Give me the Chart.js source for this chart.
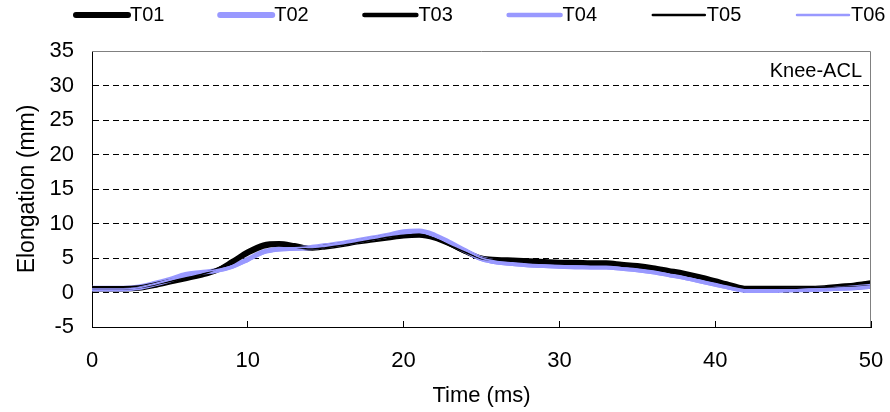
<!DOCTYPE html>
<html>
<head>
<meta charset="utf-8">
<title>Knee-ACL elongation</title>
<script src="https://cdn.jsdelivr.net/npm/chart.js@4.4.1/dist/chart.umd.min.js"></script>
<style>
  body { margin: 0; background: #fff; }
  #wrap { width: 890px; height: 412px; }
</style>
</head>
<body>
<div id="wrap"><canvas id="chart" width="890" height="412"></canvas></div>
<script>
// time axis (ms)
const times = [0, 1, 2, 3, 4, 5, 6, 7, 8, 9, 10, 11, 12, 13, 14, 15, 16, 17, 18, 19, 20,
  21, 22, 23, 24, 25, 26, 27, 28, 29, 30, 31, 32, 33, 34, 35, 36, 37, 38, 39, 40,
  41, 42, 43, 44, 45, 46, 47, 48, 49, 50];

const seriesNames = ['T01', 'T02', 'T03', 'T04', 'T05', 'T06'];

// elongation (mm)
const t01 = [0.5, 0.5, 0.5, 0.6, 1.0, 1.5, 2.0, 2.5, 3.2, 4.5, 5.9, 6.9, 7.1, 6.8, 6.4, 6.6, 6.9, 7.3, 7.6, 7.9, 8.2,
  8.3, 7.9, 7.0, 5.9, 5.0, 4.8, 4.7, 4.6, 4.5, 4.4, 4.4, 4.3, 4.3, 4.1, 3.9, 3.6, 3.2, 2.8, 2.3, 1.7,
  1.1, 0.6, 0.6, 0.6, 0.6, 0.6, 0.7, 0.9, 1.1, 1.4];
const t02 = [0.6, 0.6, 0.6, 0.8, 1.3, 1.9, 2.6, 2.9, 3.2, 3.8, 4.8, 5.9, 6.3, 6.4, 6.5, 6.8, 7.1, 7.5, 7.9, 8.3, 8.8,
  8.9, 8.3, 7.2, 6.0, 4.9, 4.4, 4.2, 4.0, 3.9, 3.8, 3.7, 3.7, 3.7, 3.5, 3.3, 3.0, 2.6, 2.2, 1.7, 1.2,
  0.7, 0.3, 0.3, 0.3, 0.4, 0.4, 0.5, 0.6, 0.7, 0.9];
const t03 = [0.7, 0.7, 0.7, 0.8, 1.2, 1.7, 2.2, 2.6, 3.3, 4.3, 5.6, 6.6, 6.9, 6.7, 6.4, 6.7, 7.0, 7.4, 7.8, 8.2, 8.5,
  8.6, 8.0, 6.9, 5.8, 4.9, 4.6, 4.5, 4.4, 4.3, 4.2, 4.2, 4.1, 4.1, 3.9, 3.7, 3.4, 3.0, 2.6, 2.1, 1.5,
  0.9, 0.5, 0.5, 0.5, 0.5, 0.5, 0.5, 0.6, 0.7, 0.8];
const t04 = [0.4, 0.4, 0.4, 0.6, 1.1, 1.7, 2.4, 2.8, 3.1, 3.7, 4.7, 5.8, 6.2, 6.3, 6.4, 6.7, 7.0, 7.4, 7.8, 8.2, 8.6,
  8.8, 8.2, 7.1, 5.9, 4.8, 4.3, 4.1, 3.9, 3.8, 3.7, 3.7, 3.6, 3.6, 3.4, 3.2, 2.9, 2.5, 2.1, 1.6, 1.1,
  0.6, 0.2, 0.2, 0.3, 0.3, 0.4, 0.4, 0.5, 0.6, 0.8];
const t05 = [0.5, 0.5, 0.5, 0.7, 1.1, 1.6, 2.1, 2.6, 3.4, 4.6, 6.0, 6.9, 7.0, 6.6, 6.3, 6.5, 6.8, 7.2, 7.6, 8.0, 8.3,
  8.4, 7.8, 6.8, 5.8, 4.9, 4.7, 4.6, 4.5, 4.4, 4.3, 4.3, 4.2, 4.2, 4.0, 3.8, 3.5, 3.1, 2.7, 2.2, 1.6,
  1.0, 0.6, 0.6, 0.6, 0.6, 0.7, 0.8, 1.0, 1.3, 1.6];
const t06 = [0.5, 0.5, 0.5, 0.7, 1.2, 1.8, 2.5, 2.9, 3.3, 3.9, 4.9, 6.0, 6.4, 6.5, 6.6, 6.8, 7.2, 7.6, 8.0, 8.4, 8.9,
  9.0, 8.4, 7.3, 6.1, 5.0, 4.5, 4.3, 4.1, 4.0, 3.9, 3.8, 3.8, 3.8, 3.6, 3.4, 3.1, 2.7, 2.3, 1.8, 1.3,
  0.8, 0.4, 0.4, 0.4, 0.4, 0.5, 0.5, 0.6, 0.7, 0.9];

const yTicks = [-5, 0, 5, 10, 15, 20, 25, 30, 35];
const xTicks = [0, 10, 20, 30, 40, 50];

const allSeries = [t01, t02, t03, t04, t05, t06];
const colors = ['#000000', '#9999ff', '#000000', '#9999ff', '#000000', '#9999ff'];
const widths = [5, 5, 3.5, 3.5, 1.5, 1.5];

const FONT = 'Arial, "Liberation Sans", sans-serif';

const datasets = allSeries.map((vals, i) => ({
  label: seriesNames[i],
  data: vals.map((v, k) => ({ x: times[k], y: v })),
  borderColor: colors[i],
  backgroundColor: colors[i],
  borderWidth: widths[i],
  pointRadius: 0,
  cubicInterpolationMode: 'monotone',
  fill: false,
  order: allSeries.length - i   // later series on top, like the original
}));

// frame, corner label and legend row
const extras = {
  id: 'extras',
  afterDraw(chart) {
    const { ctx, chartArea: a } = chart;
    ctx.save();
    ctx.strokeStyle = '#808080';
    ctx.lineWidth = 1;
    ctx.beginPath();
    ctx.moveTo(a.left, a.top + 0.5);
    ctx.lineTo(a.right - 0.5, a.top + 0.5);
    ctx.lineTo(a.right - 0.5, a.bottom);
    ctx.stroke();

    ctx.fillStyle = '#000';
    ctx.font = '20px ' + FONT;
    ctx.textAlign = 'right';
    ctx.textBaseline = 'middle';
    ctx.fillText('Knee-ACL', a.right - 9, a.top + 20);

    // legend
    ctx.textAlign = 'left';
    chart.data.datasets.forEach((ds, i) => {
      const x0 = 76 + i * 144.2;
      const y0 = 15;
      ctx.strokeStyle = ds.borderColor;
      ctx.lineWidth = ds.borderWidth + 1;
      ctx.lineCap = 'round';
      ctx.beginPath();
      ctx.moveTo(x0, y0);
      ctx.lineTo(x0 + 52, y0);
      ctx.stroke();
      ctx.fillStyle = '#000';
      ctx.fillText(ds.label, x0 + 54, y0);
    });
    ctx.restore();
  }
};

new Chart(document.getElementById('chart'), {
  type: 'line',
  data: { datasets },
  options: {
    responsive: false,
    animation: false,
    layout: { padding: { top: 51, right: 19, left: 0, bottom: 0 } },
    plugins: { legend: { display: false }, tooltip: { enabled: false } },
    scales: {
      x: {
        type: 'linear',
        min: 0,
        max: 50,
        afterBuildTicks: s => { s.ticks = xTicks.map(v => ({ value: v })); },
        afterFit: s => { s.height = 85; s.paddingLeft = 0; s.paddingRight = 0; },
        grid: { drawOnChartArea: false, tickLength: -6, tickColor: '#000', color: '#000' },
        border: { color: '#000', width: 1 },
        ticks: { color: '#000', font: { family: FONT, size: 22 }, padding: 27, maxRotation: 0 },
        title: { display: true, text: 'Time (ms)', color: '#000', font: { family: FONT, size: 22 }, padding: { top: 0, bottom: 3 } }
      },
      y: {
        min: -5,
        max: 35,
        afterBuildTicks: s => { s.ticks = yTicks.map(v => ({ value: v })); },
        afterFit: s => { s.width = 92; s.paddingTop = 0; s.paddingBottom = 0; },
        grid: {
          color: c => (c.tick && (c.tick.value === -5 || c.tick.value === 35)) ? 'rgba(0,0,0,0)' : '#000',
          lineWidth: 1,
          tickLength: -4,
          tickColor: '#000'
        },
        border: { color: '#000', width: 1, dash: [6, 4] },
        ticks: { color: '#000', font: { family: FONT, size: 22 }, padding: 22 },
        title: { display: true, text: 'Elongation (mm)', color: '#000', font: { family: FONT, size: 23 }, padding: { top: 14, bottom: 0 } }
      }
    }
  },
  plugins: [extras]
});
</script>
</body>
</html>
